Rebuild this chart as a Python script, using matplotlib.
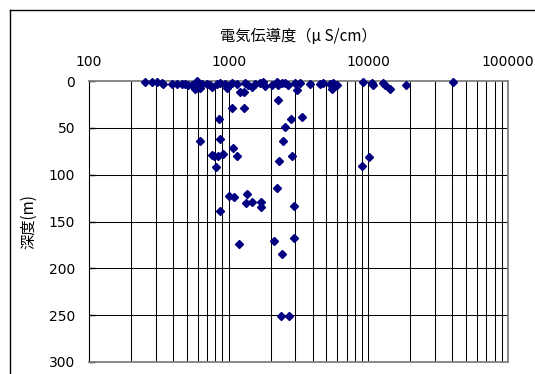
import matplotlib
matplotlib.use("Agg")
import matplotlib.pyplot as plt
from matplotlib.lines import Line2D
from matplotlib.ticker import FixedLocator, NullFormatter

# electrical conductivity (uS/cm) and sampling depth (m)
ec = [252, 281, 305, 331, 340, 391, 424, 461, 487, 514,
      543, 571, 590, 606, 623, 641, 696, 734, 755, 820,
      866, 941, 977, 994, 1050, 1140, 1205, 1288, 1309, 1381,
      1461, 1542, 1674, 1770, 1820, 2031, 2207, 2266, 2266, 2395,
      2528, 2671, 2984, 3068, 3238, 3819, 4508, 4757, 5310, 5459,
      5607, 5927, 9180, 10540, 10800, 12800, 13150, 14400, 18600, 40500,
      1051, 1279, 848, 2780, 3325, 2541, 624, 867, 2449, 1069,
      759, 791, 832, 914, 1146, 2291, 2826, 815, 8995, 10090,
      2204, 1000, 1091, 1352, 1324, 1461, 1711, 1711, 2951, 861,
      1190, 2120, 2951, 2421, 2366, 2686]
depth = [1.4, 0.7, 1.4, 2.5, 3.5, 3.5, 3.2, 2.9, 3.2, 4.3,
         4, 8.9, 0, 4.3, 7.5, 3.2, 3.5, 4.3, 6.7, 3.2,
         2.1, 3.5, 7.5, 5, 2.5, 3.2, 11.4, 11.4, 2.5, 4.3,
         6.1, 3.2, 2.5, 0.7, 5.3, 4.3, 0.7, 4.3, 20.3, 2.5,
         2.5, 4.3, 2.5, 9.6, 2.5, 3.2, 3.2, 1.8, 3.2, 8.5,
         1.8, 4.3, 1.4, 1.8, 4.3, 2.5, 4.3, 8.9, 4.6, 1.4,
         28.8, 28.8, 40.2, 40.2, 38.8, 48.8, 64.4, 62.2, 64.4, 71.2,
         78.7, 80.4, 79.7, 77.9, 80, 85.7, 80, 91.5, 91, 81.1,
         114.6, 122.4, 123.5, 121, 129.9, 128.8, 129.5, 134.2, 133.5, 138.8,
         174.3, 171.1, 167.6, 184.3, 251.2, 251.2]

x_ticks = [100, 1000, 10000, 100000]
x_labels = ["100", "1000", "10000", "100000"]
y_ticks = [0, 50, 100, 150, 200, 250, 300]

jp = ["Noto Sans CJK JP", "DejaVu Sans"]
num = "DejaVu Sans"

fig = plt.figure(figsize=(5.35, 3.74), dpi=100)
ax = fig.add_axes([0.1664, 0.0321, 0.7832, 0.7513])

ax.set_xscale("log")
ax.set_xlim(100, 100000)
ax.set_ylim(300, 0)

minor = [m * 10 ** e for e in (2, 3, 4) for m in range(2, 10)]
ax.xaxis.set_major_locator(FixedLocator(x_ticks))
ax.xaxis.set_minor_locator(FixedLocator(minor))
ax.xaxis.set_minor_formatter(NullFormatter())
ax.set_xticks(x_ticks, x_labels, fontfamily=num, fontsize=10)
ax.set_yticks(y_ticks, [str(v) for v in y_ticks], fontfamily=num, fontsize=10)

ax.xaxis.tick_top()
ax.xaxis.set_label_position("top")
ax.tick_params(axis="x", which="both", length=0, pad=8.5)
ax.tick_params(axis="y", which="major", direction="in", length=4, pad=10, width=1)

for v in x_ticks[1:-1] + minor:
    ax.axvline(v, color="black", lw=0.75, zorder=1)
for v in y_ticks[1:-1]:
    ax.axhline(v, color="black", lw=0.75, zorder=1)

ax.plot(ec, depth, linestyle="none", marker="D", markersize=3.8,
        color="#000080", zorder=3, clip_on=False)

ax.spines["left"].set_color("black")
ax.spines["top"].set_color("#808080")
ax.spines["right"].set_color("#808080")
ax.spines["bottom"].set_color("#808080")
for s in ("right", "bottom", "top"):
    ax.spines[s].set_linewidth(1.3)

ax.set_xlabel("電気伝導度（μ S/cm）", fontfamily=jp, fontsize=11, labelpad=10)
ax.set_ylabel("深度(m)", fontfamily=jp, fontsize=11, labelpad=8)

# chart area frame
fx = 10 / 535
fy = 1 - 10 / 374
fig.add_artist(Line2D([fx, fx], [0, fy], color="black", lw=1))
fig.add_artist(Line2D([fx, 1], [fy, fy], color="black", lw=1))

fig.savefig("out.png", dpi=100)
